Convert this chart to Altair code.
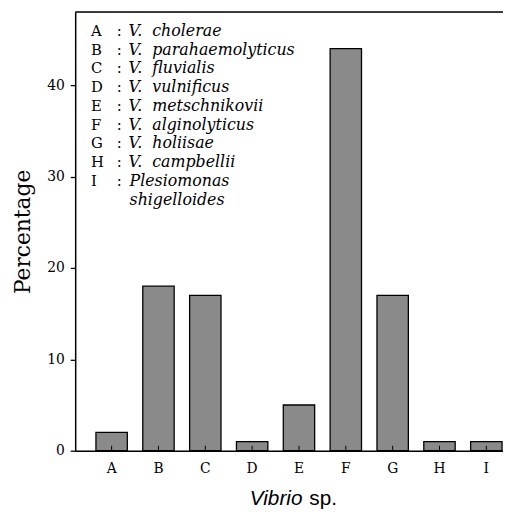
import altair as alt
import pandas as pd

categories = ["A", "B", "C", "D", "E", "F", "G", "H", "I"]
percent = [2, 18, 17, 1, 5, 44, 17, 1, 1]
y_ticks = [0, 10, 20, 30, 40]
legend_letters = ["A", "B", "C", "D", "E", "F", "G", "H", "I", ""]
legend_colons = [":", ":", ":", ":", ":", ":", ":", ":", ":", ""]
legend_genus = ["V.", "V.", "V.", "V.", "V.", "V.", "V.", "V.", "", ""]
legend_species = ["cholerae", "parahaemolyticus", "fluvialis", "vulnificus",
                  "metschnikovii", "alginolyticus", "holiisae", "campbellii", "", ""]
legend_other = ["", "", "", "", "", "", "", "", "Plesiomonas", "shigelloides"]
y_max = 48

W, H = 433, 444
SERIF = "DejaVu Serif"
NAME_SIZE = 16

df = pd.DataFrame({"cat": categories, "pct": percent})
leg = pd.DataFrame({"row": list(range(len(legend_letters))), "letter": legend_letters,
                    "colon": legend_colons, "genus": legend_genus,
                    "species": legend_species, "other": legend_other})
top = pd.DataFrame({"v": [y_max]})
one = pd.DataFrame({"a": [0]})

xscale = alt.Scale(domain=categories, paddingInner=0.33, paddingOuter=0.232, align=0.955)
yscale = alt.Scale(domain=[0, y_max], nice=False, zero=True)

xaxis = alt.Axis(title=None, labelFont=SERIF, labelFontSize=14, labelColor="black",
                 domainColor="black", domainWidth=1.5, ticks=False, labelPadding=11,
                 labelAngle=0, grid=False)
yaxis = alt.Axis(values=y_ticks, title="Percentage", titleFont=SERIF, titleFontSize=22,
                 titleFontWeight="normal", titleColor="black", titlePadding=12,
                 labelFont=SERIF, labelFontSize=14, labelColor="black", labelPadding=6,
                 tickColor="black", tickSize=5, tickWidth=1.3, domainColor="black",
                 domainWidth=1.5, grid=False)

bars = alt.Chart(df).mark_bar(fill="#8a8a8a", stroke="black", strokeWidth=1.3).encode(
    x=alt.X("cat:N", scale=xscale, sort=categories, axis=xaxis),
    y=alt.Y("pct:Q", scale=yscale, axis=yaxis),
)

inticks = alt.Chart(df).mark_rule(color="black", strokeWidth=1).encode(
    x=alt.X("cat:N", scale=xscale, sort=categories, axis=xaxis),
    y=alt.datum(0, scale=yscale, axis=None),
    y2=alt.value(H - 5),
)

toprule = alt.Chart(top).mark_rule(color="black", strokeWidth=1.5).encode(
    y=alt.Y("v:Q", scale=yscale, axis=None)
)

rowy = alt.Y("row:O", scale=alt.Scale(range=[19, 190], padding=0), axis=None)


def legend_text(field, xpos, size, style="normal", xoff_field=None):
    return alt.Chart(leg).mark_text(align="left", baseline="middle", font=SERIF,
                                    fontSize=size, fontStyle=style, color="black").encode(
        x=alt.value(xpos), y=rowy, text=f"{field}:N")


letters = legend_text("letter", 16, 15)
colons = legend_text("colon", 42, 15)
genus = legend_text("genus", 54, NAME_SIZE, "italic")
species = legend_text("species", 78, NAME_SIZE, "italic")
other = alt.Chart(leg).mark_text(align="left", baseline="middle", font=SERIF,
                                 fontSize=NAME_SIZE, fontStyle="italic", color="black").encode(
    x=alt.value(55), y=rowy, text="other:N")

t1 = alt.Chart(one).mark_text(align="right", baseline="alphabetic", font="Liberation Sans",
                              fontSize=21, fontStyle="italic", color="black", text="Vibrio").encode(
    x=alt.value(230), y=alt.value(H + 55))
t2 = alt.Chart(one).mark_text(align="left", baseline="alphabetic", font="Liberation Sans",
                              fontSize=21, color="black", text="sp.").encode(
    x=alt.value(237), y=alt.value(H + 55))

chart = alt.layer(bars, inticks, toprule, letters, colons, genus, species, other, t1, t2).resolve_scale(
    y="independent"
).properties(
    width=W, height=H,
    autosize=alt.AutoSizeParams(type="none"),
    padding={"left": 68, "top": 1, "right": 0, "bottom": 62},
).configure_view(stroke=None).configure(background="white")

chart.save("out.html", embed_options={"renderer": "svg", "actions": False})
